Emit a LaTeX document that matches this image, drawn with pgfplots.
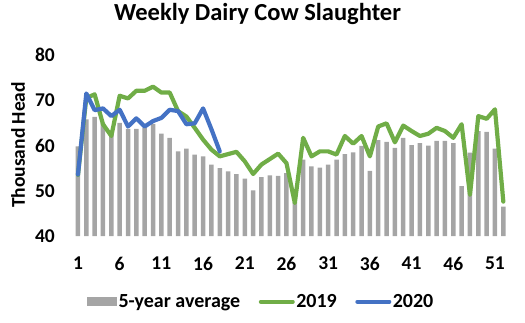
\documentclass[border=0pt]{standalone}
\usepackage{pgfplots}
\pgfplotsset{compat=1.18}
\usepackage{fontspec}
\setmainfont{Carlito}
\definecolor{barg}{HTML}{A5A5A5}
\definecolor{g19}{HTML}{70AD47}
\definecolor{b20}{HTML}{4472C4}
\begin{document}
\begin{tikzpicture}[x=1pt,y=1pt]
\path[use as bounding box] (-73.8,-86) rectangle (451.2,236);
\begin{axis}[
  at={(0,0)}, anchor=south west,
  scale only axis, width=433.7pt, height=181pt,
  xmin=0.5, xmax=52.5, ymin=40, ymax=80,
  xtick={1,6,...,51}, ytick={40,50,...,80},
  axis line style={draw=none}, major tick length=0pt,
  /pgf/number format/assume math mode=true,
  tick label style={font=\fontsize{19.5}{23}\selectfont\bfseries},
  yticklabel style={anchor=east, inner sep=0pt, xshift=-18.8pt},
  xticklabel style={anchor=north, inner sep=0pt, yshift=-20.7pt},
  ylabel={Thousand Head},
  ylabel style={at={(-0.1287,0.503)}, anchor=center, font=\fontsize{19.5}{23}\selectfont\bfseries},
  title={Weekly Dairy Cow Slaughter},
  title style={at={(0.4236,1.160)}, anchor=base, font=\fontsize{24.5}{28}\selectfont\bfseries},
  legend columns=3,
  legend style={at={(0.4316,-0.363)}, anchor=center, draw=none, fill=none,
    font=\fontsize{20}{24}\selectfont\bfseries, inner sep=0pt,
    nodes={inner sep=1.5pt},
    /tikz/every even column/.append style={column sep=17pt}},
  legend cell align=left,
]
\addplot[ybar, bar width=4.5pt, bar shift=0pt, fill=barg, draw=none,
  legend image code/.code={\fill[barg] (0pt,-4.5pt) rectangle (30pt,4.5pt);}]
coordinates {
(1,59.8)(2,65.8)(3,66.3)(4,65.0)(5,63.0)(6,65.0)(7,63.7)(8,63.7)(9,63.9)(10,64.8)
(11,62.6)(12,61.7)(13,58.7)(14,59.3)(15,58.0)(16,57.6)(17,55.8)(18,55.0)(19,54.3)(20,53.7)
(21,52.7)(22,50.1)(23,53.0)(24,53.4)(25,53.3)(26,53.9)(27,47.5)(28,56.9)(29,55.4)(30,55.1)
(31,55.8)(32,56.9)(33,58.1)(34,58.5)(35,59.9)(36,54.4)(37,61.2)(38,60.8)(39,59.5)(40,61.7)
(41,60.1)(42,60.5)(43,60.0)(44,61.0)(45,61.0)(46,60.5)(47,51.0)(48,58.4)(49,63.2)(50,63.0)
(51,59.3)(52,46.5)};
\addlegendentry{5-year average}
\addplot[g19, line width=4.2pt, line join=round, line cap=round, mark=none,
  legend image code/.code={\draw[g19, line width=4pt, line cap=round] (2pt,0pt) -- (34pt,0pt);}]
coordinates {
(1,53.5)(2,70.5)(3,71.3)(4,64.7)(5,62.1)(6,71.0)(7,70.4)(8,72.1)(9,72.1)(10,73.0)
(11,71.7)(12,71.7)(13,67.6)(14,66.4)(15,63.9)(16,61.3)(17,59.1)(18,57.6)(19,58.1)(20,58.6)
(21,56.5)(22,53.7)(23,55.8)(24,57.0)(25,58.2)(26,56.1)(27,47.3)(28,61.7)(29,57.6)(30,58.7)
(31,58.7)(32,58.0)(33,62.1)(34,60.4)(35,62.1)(36,57.6)(37,64.2)(38,64.9)(39,60.7)(40,64.4)
(41,63.2)(42,62.1)(43,62.6)(44,63.9)(45,63.2)(46,61.7)(47,64.7)(48,49.1)(49,66.5)(50,65.9)
(51,68.0)(52,47.6)};
\addlegendentry{2019}
\addplot[b20, line width=4.2pt, line join=round, line cap=round, mark=none,
  legend image code/.code={\draw[b20, line width=4pt, line cap=round] (2pt,0pt) -- (34pt,0pt);}]
coordinates {
(1,53.6)(2,71.5)(3,67.8)(4,68.2)(5,66.5)(6,67.9)(7,64.2)(8,66.0)(9,64.2)(10,65.4)
(11,66.1)(12,67.9)(13,67.6)(14,64.7)(15,64.9)(16,68.2)(17,63.6)(18,58.7)};
\addlegendentry{2020}
\end{axis}
\end{tikzpicture}
\end{document}
